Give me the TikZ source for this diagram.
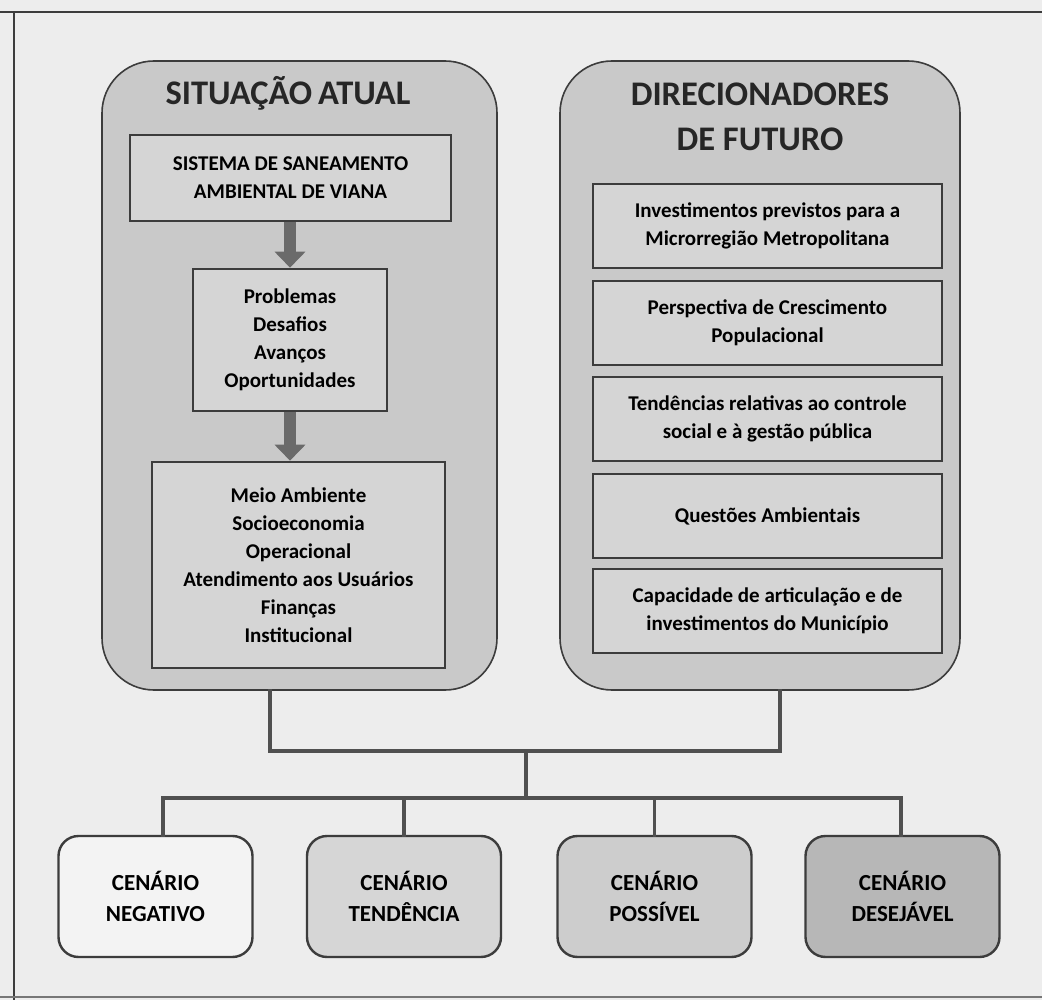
\documentclass[tikz,border=0pt]{standalone}
\usepackage{fontspec}
\setmainfont{Carlito}
\usetikzlibrary{arrows.meta}
\definecolor{bg}{HTML}{EDEDED}
\definecolor{bigfill}{HTML}{C9C9C9}
\definecolor{innerfill}{HTML}{D5D5D5}
\definecolor{edge}{HTML}{3C3C3C}
\definecolor{arrowgray}{HTML}{6A6A6A}
\definecolor{cA}{HTML}{F3F3F3}
\definecolor{cB}{HTML}{D6D6D6}
\definecolor{cC}{HTML}{CDCDCD}
\definecolor{cD}{HTML}{B7B7B7}
\tikzset{
  bigbox/.style={draw=edge, line width=1.6pt, fill=bigfill, rounded corners=52pt, minimum height=629pt, inner sep=0pt},
  innerbox/.style={draw=edge, line width=2.6pt, fill=innerfill, align=center, inner sep=0pt,
    font=\fontsize{21}{28}\selectfont\bfseries},
  titletext/.style={font=\fontsize{34.5}{45}\selectfont\bfseries, align=center, text=black!85},
  scenbox/.style={draw=edge, line width=2.4pt, rounded corners=20pt, minimum width=194pt, minimum height=121pt,
    align=center, inner sep=0pt, font=\fontsize{23}{31}\selectfont\bfseries},
  blockarrow/.style={draw=arrowgray, line width=12pt, -{Triangle[length=16pt,width=30pt]}},
  link/.style={draw=edge!90, line width=3.5pt, line cap=rect}
}
\begin{document}
\begin{tikzpicture}[x=1pt,y=-1pt]
\useasboundingbox (0,0) rectangle (1042,1000);
\fill[bg] (0,0) rectangle (1042,1000);
% outer frame
\draw[edge, line width=1.2pt] (0,12) -- (1042,12);
\draw[edge, line width=1.2pt] (14,12) -- (14,1000);
\draw[edge!70, line width=1.5pt] (0,997) -- (1042,997);

% big boxes
\node[bigbox, minimum width=395pt] (L) at (299.5,375.5) {};
\node[bigbox, minimum width=400pt] (R) at (760,375.5) {};

\node[titletext] (tL) at (288,93) {SITUAÇÃO\,ATUAL};
\node[titletext] (tR) at (760,117) {DIRECIONADORES\\DE FUTURO};

% left column
\node[innerbox, minimum width=321pt, minimum height=86pt] (sis) at (290.5,178) {SISTEMA DE SANEAMENTO\\AMBIENTAL DE VIANA};
\node[innerbox, minimum width=194pt, minimum height=142pt] (prob) at (290,340) {Problemas\\Desafios\\Avanços\\Oportunidades};
\node[innerbox, minimum width=293pt, minimum height=206pt] (meio) at (298.5,565) {Meio Ambiente\\Socioeconomia\\Operacional\\Atendimento aos Usuários\\Finanças\\Institucional};

\draw[blockarrow] (sis.south -| prob.north) -- (prob.north);
\draw[blockarrow] (prob.south) -- (prob.south |- meio.north);

% right column
\begin{scope}[every node/.append style={innerbox, minimum width=349pt, minimum height=84pt}]
\node (d1) at (767.5,226) {Investimentos previstos para a\\Microrregião Metropolitana};
\node (d2) at (767.5,323) {Perspectiva de Crescimento\\Populacional};
\node (d3) at (767.5,419) {Tendências relativas ao controle\\social e à gestão pública};
\node (d4) at (767.5,516) {Questões Ambientais};
\node (d5) at (767.5,611) {Capacidade de articulação e de\\investimentos do Município};
\end{scope}

% scenarios
\node[scenbox, fill=cA] (c1) at (155.5,896.5) {CENÁRIO\\NEGATIVO};
\node[scenbox, fill=cB] (c2) at (404,896.5) {CENÁRIO\\TENDÊNCIA};
\node[scenbox, fill=cC] (c3) at (654.5,896.5) {CENÁRIO\\POSSÍVEL};
\node[scenbox, fill=cD] (c4) at (902.5,896.5) {CENÁRIO\\DESEJÁVEL};

% connectors
\coordinate (j1) at (270,751);
\coordinate (j2) at (780,751);
\coordinate (jm) at (526,751);
\coordinate (jb) at (526,798);
\coordinate (b1) at (163,798);
\coordinate (b4) at (901,798);
\draw[link] (L.south -| j1) -- (j1) -- (j2) -- (R.south -| j2);
\draw[link] (jm) -- (jb);
\draw[link] (b1) -- (b4);
\draw[link] (b1) -- (b1 |- c1.north);
\draw[link] (c2.north |- jb) -- (c2.north);
\draw[link] (c3.north |- jb) -- (c3.north);
\draw[link] (b4) -- (b4 |- c4.north);
\end{tikzpicture}
\end{document}
